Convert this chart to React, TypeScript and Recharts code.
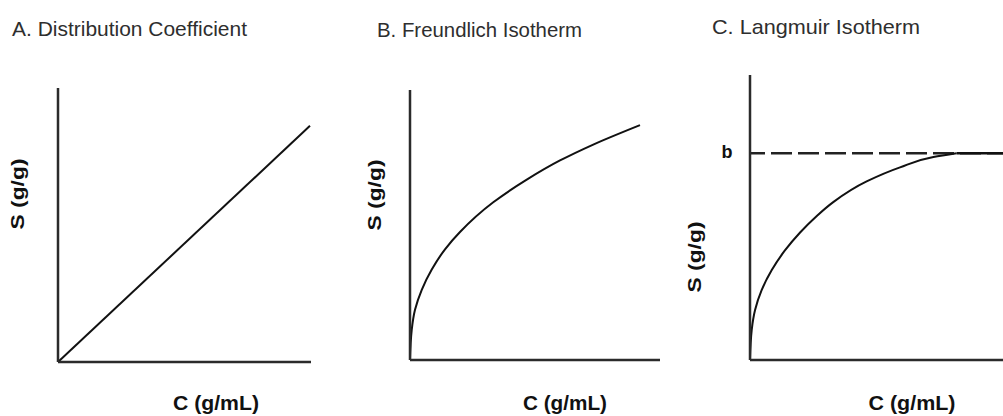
import { LineChart, Line, XAxis, YAxis, ReferenceLine } from "recharts"

// A. Distribution Coefficient (linear)
const distC = [0, 0.996]
const distS = [0, 0.862]

// B. Freundlich Isotherm
const freundC = [0, 0.0068, 0.02, 0.047, 0.087, 0.14, 0.2, 0.333, 0.467, 0.6, 0.733, 0.92]
const freundS = [0, 0.111, 0.186, 0.26, 0.335, 0.41, 0.474, 0.584, 0.668, 0.739, 0.798, 0.87]

// C. Langmuir Isotherm: rising part, then the plateau at b
const langC = [0, 0.0067, 0.02, 0.046, 0.086, 0.138, 0.198, 0.264, 0.329, 0.461, 0.593, 0.725, 0.817]
const langS = [0, 0.145, 0.242, 0.338, 0.435, 0.53, 0.617, 0.697, 0.764, 0.864, 0.932, 0.982, 1.0]
const plateauC = [0.817, 1.0]
const langB = 1

const titles = ["A. Distribution Coefficient", "B. Freundlich Isotherm", "C. Langmuir Isotherm"]
const xLabel = "C (g/mL)"
const yLabel = "S (g/g)"

const toRows = (c: number[], s: number[]) => c.map((v, i) => ({ c: v, s: s[i] }))

const axisColor = "#2b2b2b"
const font = "'Liberation Sans', Arial, sans-serif"

type Row = { c: number; s: number }

type PanelProps = {
  left: number
  width: number
  margin: { top: number; left: number; right: number; bottom: number }
  data: Row[]
  yMax: number
  curve: "linear" | "monotoneY"
  refY?: number
  extra?: Row[]
}

function Panel({ left, width, margin, data, yMax, curve, refY, extra }: PanelProps) {
  // axes take 1px each, so the margins are reduced by that
  const m = { ...margin, left: margin.left - 1, bottom: margin.bottom - 1 }
  return (
    <div style={{ position: "absolute", left, top: 0 }}>
      <LineChart width={width} height={416} margin={m}>
        <XAxis
          type="number"
          dataKey="c"
          domain={[0, 1]}
          tick={false}
          tickLine={false}
          height={1}
          axisLine={{ stroke: axisColor, strokeWidth: 2.5 }}
        />
        <YAxis
          type="number"
          domain={[0, yMax]}
          tick={false}
          tickLine={false}
          width={1}
          axisLine={{ stroke: axisColor, strokeWidth: 2.5 }}
        />
        {refY !== undefined && (
          <ReferenceLine
            y={refY}
            stroke="#222"
            strokeWidth={2.5}
            strokeDasharray="21 6"
            strokeDashoffset={6}
          />
        )}
        <Line
          data={data}
          type={curve}
          dataKey="s"
          stroke="#111"
          strokeWidth={2}
          dot={false}
          isAnimationActive={false}
        />
        {extra && (
          <Line
            data={extra}
            type="linear"
            dataKey="s"
            stroke="#111"
            strokeWidth={2.5}
            dot={false}
            isAnimationActive={false}
          />
        )}
      </LineChart>
    </div>
  )
}

export default function App() {
  return (
    <div style={{ position: "absolute", left: 0, top: 0, width: 1003, height: 416, background: "#fff" }}>

      <Panel
        left={0}
        width={340}
        margin={{ top: 88, left: 58, right: 29, bottom: 54 }}
        data={toRows(distC, distS)}
        yMax={1}
        curve="linear"
      />

      <Panel
        left={340}
        width={340}
        margin={{ top: 90, left: 70, right: 20, bottom: 56 }}
        data={toRows(freundC, freundS)}
        yMax={1}
        curve="monotoneY"
      />

      <Panel
        left={680}
        width={323}
        margin={{ top: 75, left: 70, right: 0, bottom: 56 }}
        data={toRows(langC, langS)}
        yMax={1.379}
        curve="monotoneY"
        refY={langB}
        extra={plateauC.map((c) => ({ c, s: langB }))}
      />

      <svg width={1003} height={416} style={{ position: "absolute", left: 0, top: 0, pointerEvents: "none" }}>
        <g fontFamily={font} fill="#2e2e2e" fontSize={21}>
          <text x={12} y={36} textLength={235} lengthAdjust="spacingAndGlyphs">{titles[0]}</text>
          <text x={377} y={37} textLength={205} lengthAdjust="spacingAndGlyphs">{titles[1]}</text>
          <text x={712} y={34} textLength={208} lengthAdjust="spacingAndGlyphs">{titles[2]}</text>
        </g>

        <g fontFamily={font} fill="#111" fontWeight="bold" fontSize={21} textAnchor="middle">
          <text x={216} y={410} textLength={86} lengthAdjust="spacingAndGlyphs">{xLabel}</text>
          <text x={565} y={410} textLength={84} lengthAdjust="spacingAndGlyphs">{xLabel}</text>
          <text x={912} y={410} textLength={87} lengthAdjust="spacingAndGlyphs">{xLabel}</text>
        </g>

        <g fontFamily={font} fill="#111" fontWeight="bold" fontSize={18} textAnchor="middle">
          <text transform="translate(24,194) rotate(-90)" textLength={71} lengthAdjust="spacingAndGlyphs">{yLabel}</text>
          <text transform="translate(381,195) rotate(-90)" textLength={71} lengthAdjust="spacingAndGlyphs">{yLabel}</text>
          <text transform="translate(701,257) rotate(-90)" textLength={71} lengthAdjust="spacingAndGlyphs">{yLabel}</text>
          <text x={727} y={158}>b</text>
        </g>
      </svg>

    </div>
  )
}
